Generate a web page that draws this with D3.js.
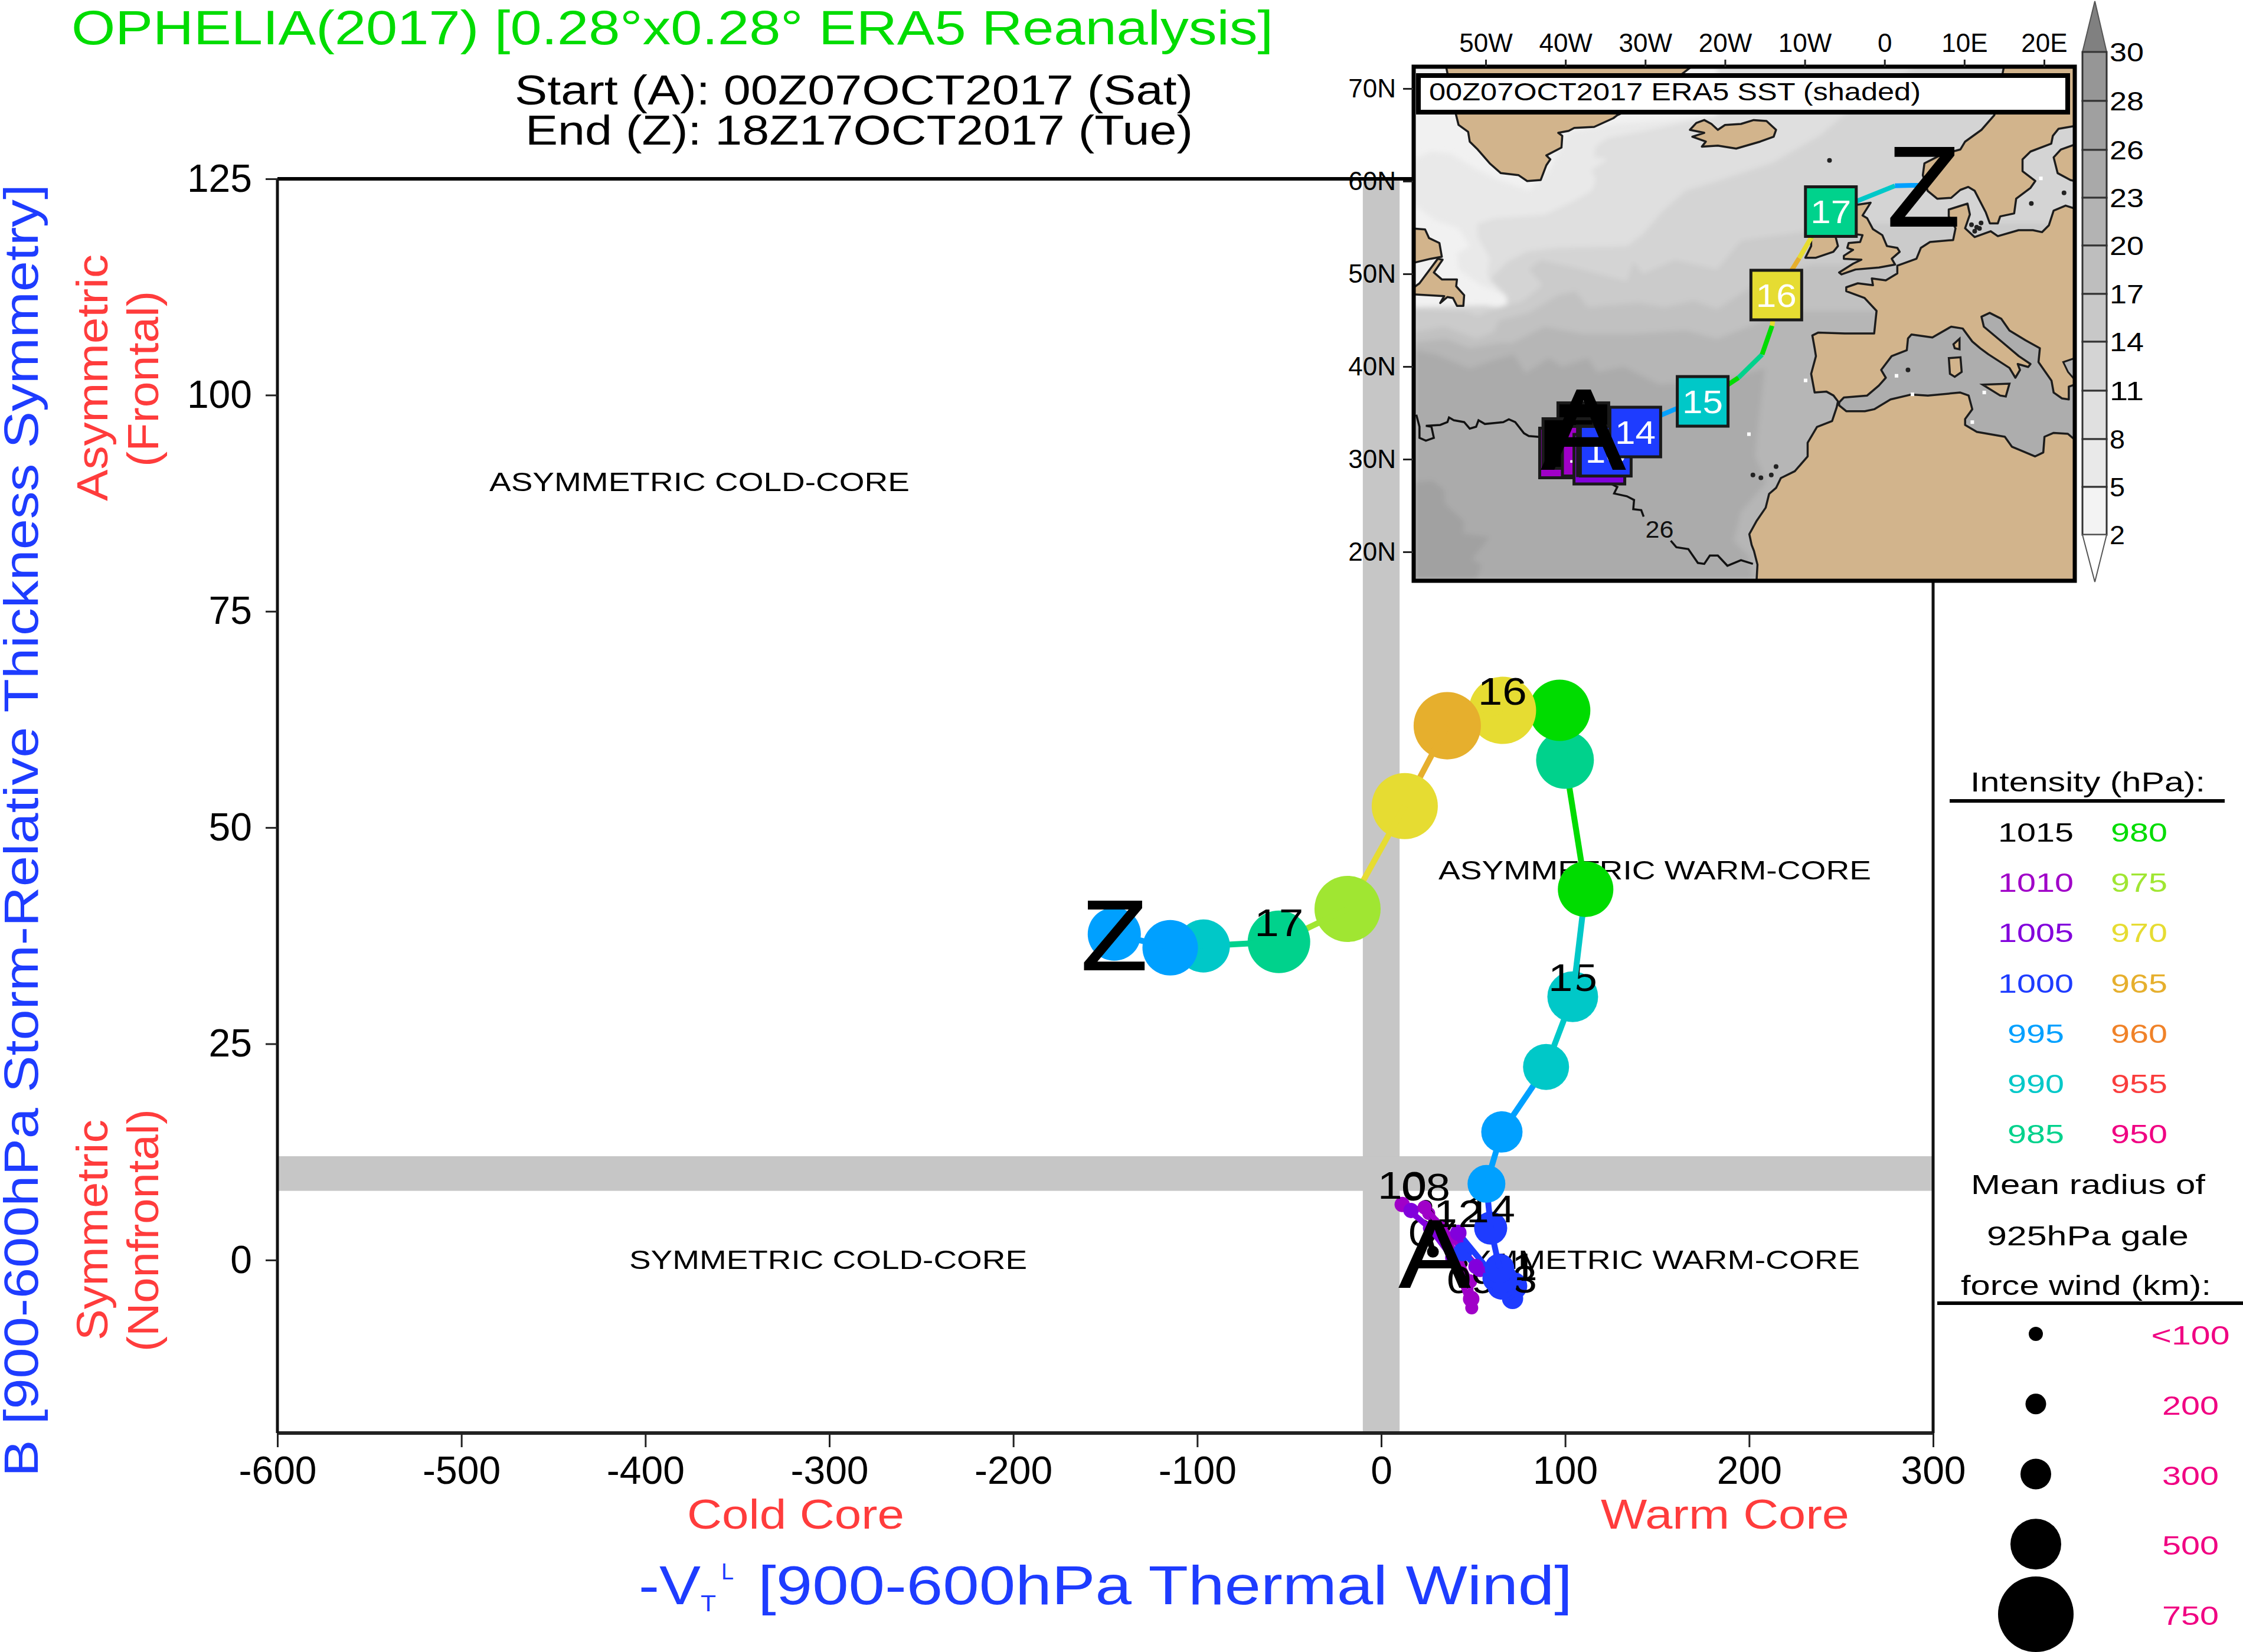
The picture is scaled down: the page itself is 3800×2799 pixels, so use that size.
<!DOCTYPE html>
<html>
<head>
<meta charset="utf-8">
<script src="https://cdn.jsdelivr.net/npm/d3@7"></script>
<style>html,body{margin:0;padding:0;background:#fff}svg{display:block}</style>
</head>
<body>
<script>
// ---------- phase diagram data (6-hourly, 00Z07OCT .. 18Z17OCT) ----------
const phaseVtl=[28.1,25.8,28.7,25.8,24.2,32.2,41.9,48.3,48.9,49.2,38.6,26.5,11.4,16.2,23.6,53.7,71.7,64.3,62.7,65.3,41.9,44.4,51.5,64.3,71.4,65.9,65.9,64.3,59.5,57.2,65.6,89.6,104.1,111.1,99.9,97,65.9,35.9,12.8,-18.3,-55.6,-96.7,-114.7,-145.1];
const phaseB=[0.96,2.66,4.37,5.39,6.21,3.69,0.27,-2.46,-4.5,-5.53,0.27,3.69,6.42,5.73,6.08,-1.09,-3,-0.96,-2.1,-2.94,3.14,0.96,-0.75,-1.77,-4.45,-2.8,-2.1,-0.96,3.69,8.81,14.81,22.32,30.44,42.87,57.82,63.55,63.55,61.77,52.49,40.6,36.79,36.31,36.11,37.68];
const phasePressure=[1015,1015,1015,1010,1015,1010,1010,1010,1010,1010,1005,1005,1010,1005,1010,1005,1000,1000,1000,1000,1005,1000,1005,1000,1000,1000,1000,1000,1000,995,995,990,990,980,985,980,970,965,970,975,985,990,995,995];
const phaseGale=[64,64,64,82,82,100,100,100,136,82,100,100,118,118,100,118,276,288,276,276,136,173,118,229,206,276,288,288,324,371,406,453,500,548,571,607,667,667,655,655,619,524,548,524];
// ---------- legend ----------
const pressureLeft=[1015,1010,1005,1000,995,990,985];
const pressureRight=[980,975,970,965,960,955,950];
const pressureColors=["#000000","#a000c8","#8200dc","#1e3cff","#00a0ff","#00c8c8","#00d28c","#00dc00","#a0e632","#e6dc32","#e6af2d","#f08228","#fa3c3c","#f00082"];
const galeKm=[100,200,300,500,750];
const galeRadiusPx=[12,17.5,26,43,64];
const galeLabels=["<100","200","300","500","750"];
// ---------- axes ----------
const xTicks=[-600,-500,-400,-300,-200,-100,0,100,200,300];
const yTicks=[125,100,75,50,25,0];
const lonTicks=[-50,-40,-30,-20,-10,0,10,20];
const lonLabels=["50W","40W","30W","20W","10W","0","10E","20E"];
const latTicks=[70,60,50,40,30,20];
const latLabels=["70N","60N","50N","40N","30N","20N"];
const cbarLevels=[30,28,26,23,20,17,14,11,8,5,2];
const cbarColors=["#969696","#a0a0a0","#a9a9a9","#b3b3b3","#bebebe","#c8c8c8","#d4d4d4","#e0e0e0","#e9e9e9","#f3f3f3"];
// ---------- inset track ----------
const trackLon=[-31.25,-28.3,-25.7,-24.2,-22.8,-18.3,-15.35,-14.1,-13.57,-10.7,-9.2,-7.95,-6.73,1.3,3.5,4.9];
const trackLat=[32.93,34.65,35.6,35.9,36.24,38.8,41.3,44.4,47.71,51.7,53.9,55.7,56.72,59.5,59.55,59.55];
const trackPressure=[1000,995,995,990,990,980,985,980,970,965,970,975,985,990,995,995];
const squareDays=["09","07","08","10","12","11","13","14","15","16","17"];
const squareLon=[-40.05,-37.76,-39.63,-37.2,-35.75,-35.3,-34.95,-31.25,-22.8,-13.57,-6.73];
const squareLat=[30.67,33.4,31.69,30.86,30,30.9,30.86,32.93,36.24,47.71,56.72];
const squarePressure=[1010,1015,1015,1010,1005,1000,1000,1000,990,970,985];
const startLonLat=[-37.76,33.4];
const endLonLat=[4.9,59.55];
// ---------- SST bands (lon,lat) ----------
const sstColors=["#e9e9e9","#dfdfdf","#d4d4d4","#cbcbcb","#c1c1c1","#b6b6b6","#ababab","#a1a1a1"];
const sst1=[[-59,62.4],[-56.9,63.2],[-54.4,63],[-51.2,61.3],[-48.5,60.2],[-44.6,59],[-42.1,61.1],[-39.6,65.3],[-33.5,66.2],[-27.3,66.6],[-21,67.1],[-21,72.5],[24,72.5],[24,16.9],[-59,16.9],[-59,46.4],[-51,46.4],[-47.3,46.2],[-47.5,47.7],[-50.7,48.8],[-53.4,50.5],[-53.6,52.2],[-52,53],[-53.4,54.9],[-56.4,55.8],[-59,57.5]];
const sst2=[[-51.1,55.4],[-51,53.9],[-49.5,51.7],[-49.8,50],[-49.5,49.4],[-47.3,47.5],[-47.3,46.2],[-51,46.4],[-59,46.4],[-59,16.9],[24,16.9],[24,72.5],[-21,72.5],[-21,67],[-24.9,66.4],[-29.8,65.5],[-34.7,64.7],[-36.2,63.8],[-36.5,62.6],[-34.7,62.4],[-36.8,61.2],[-36.2,60.2],[-36.7,59],[-38.9,57.9],[-42.6,56.4],[-49,56]];
const sst3=[[-59,46.4],[-50,46.6],[-47.3,46.2],[-47.3,47.5],[-49.5,49.4],[-47.3,51.3],[-44.8,52.4],[-40.9,52.8],[-32.3,53],[-30.3,54.3],[-27.8,56.8],[-24.9,59],[-21,60],[-14,62],[-8,65],[-4,68],[4,72.5],[24,72.5],[24,16.9],[-59,16.9]];
const sst4=[[-59,46.2],[-52.5,46],[-51,45.5],[-48,46.5],[-45.5,47],[-44,48],[-42.9,48.8],[-44.6,50.5],[-43.1,51.5],[-38.9,50.7],[-32.3,49.2],[-31.5,51.3],[-30.3,50],[-26.3,51.5],[-21,50.5],[-18,53.6],[-9.2,54.7],[-3,55.5],[24,55.5],[24,16.9],[-59,16.9]];
const sst5=[[-59,43.7],[-55.2,44.3],[-51.2,43],[-49,43.7],[-48.3,45],[-44.6,45.8],[-40.9,47.7],[-38.7,48.1],[-37.2,46.4],[-30.8,46.9],[-27.6,46.4],[-23.9,47.1],[-21,46.2],[-15,49.5],[-9,51],[-4,51],[24,51],[24,16.9],[-59,16.9]];
const sst6=[[-59,42.6],[-55,43],[-52,42],[-47.8,42.6],[-46.8,42.5],[-42.6,44.3],[-37.7,43.5],[-31.8,43.5],[-24.9,43.9],[-21,43],[-15,45],[-10,46],[24,46],[24,16.9],[-59,16.9]];
const sst7=[[-59,41.8],[-56.2,41.3],[-52,39.8],[-49,40.7],[-46.5,41.3],[-45,39.3],[-42.1,40.9],[-40.4,40],[-37.2,40.9],[-36,39.4],[-32.7,40],[-28.3,38.1],[-21,38.4],[-15,39.8],[-16,32.4],[-16.2,30.3],[-14.8,27.5],[-18,24.3],[-18.9,21.2],[-17,19.5],[-16.4,16.9],[-59,16.9]];
const sst8=[[-59,27.5],[-56.7,27.7],[-55.2,26.7],[-55.1,25.2],[-52.7,23.3],[-52.8,22],[-49.5,21.6],[-51.7,19.2],[-50.5,18.6],[-51.2,16.9],[-59,16.9]];
const sstBands=[sst1,sst2,sst3,sst4,sst5,sst6,sst7,sst8];
// ---------- coast polygons (lon,lat) ----------
const greenland=[[-55,72.5],[-53.7,67.1],[-53.4,66.07],[-52.2,65.33],[-52,64.27],[-51,63.42],[-49.5,61.93],[-48.1,60.87],[-45.9,60.66],[-44.8,60.02],[-43.1,60.13],[-42.4,61.72],[-41.9,62.35],[-42.4,62.78],[-40.5,63.63],[-40.4,64.9],[-40.9,65.22],[-39.6,65.43],[-38.9,65.75],[-36.4,65.86],[-34,66.8],[-33.5,67.13],[-30,68.5],[-24,72.5]];
const iceland=[[-20.9,65.54],[-20,66.07],[-18,66.18],[-16.4,66.6],[-14.8,66.5],[-13.6,65.54],[-13.9,64.8],[-15.6,64.27],[-18.6,63.52],[-20.9,63.84],[-22.9,63.73],[-22.4,64.27],[-24.1,64.8],[-22.6,65.22],[-24.4,65.54],[-23.6,66.28],[-22.6,66.6],[-21.7,66.18]];
const labrador=[[-59.5,54.92],[-57.6,54.8],[-57.1,53.86],[-55.8,53.33],[-55.5,51.85],[-56.9,51.63],[-59.5,51.1]];
const newfoundland=[[-56,51.63],[-55.4,51.53],[-56.5,50.15],[-55.5,49.4],[-53.6,49.4],[-53.7,48.66],[-52.7,47.7],[-52.8,46.54],[-53.6,46.54],[-54.1,47.39],[-54.8,47.5],[-55.7,46.86],[-55.2,47.6],[-59.5,47.81],[-59.5,48.24],[-58.3,48.98]];
const scandinavia=[[24.5,72.5],[15,72.5],[13.76,67.13],[12.15,65.54],[10.1,64.27],[9.5,63.42],[7.2,62.89],[5,61.93],[4.8,60.66],[5.4,58.96],[6.6,58.11],[8.35,58.2],[9.5,59.06],[10.5,59.38],[11.3,58.96],[12.7,56.62],[13.2,55.45],[14.2,55.45],[14.5,56.2],[16.25,56.52],[16.5,58.11],[18.3,59.28],[18.9,60.02],[17.3,61.08],[17.3,62.35],[18.3,63.2],[20.9,64.05],[21.1,64.9],[21.8,65.65],[23.85,65.96],[24.5,66]];
const finland=[[24.5,64],[23.85,63.95],[22.1,63.42],[21.2,62.57],[21.7,60.87],[23.3,60.13],[23.85,60.02],[24.5,60]];
const eurafrica=[[24.5,57.05],[23.85,57.05],[22.7,57.37],[21.2,56.83],[20.6,55.24],[19.75,54.5],[18.6,54.71],[16.8,54.71],[14.2,54.07],[13.3,54.6],[11.3,53.97],[10.1,54.92],[10.7,56.41],[10.4,57.58],[8.05,56.94],[8.05,56.2],[8.9,54.92],[8.6,53.65],[5.7,53.44],[4.55,52.8],[4,51.63],[1.6,50.89],[1.6,50.04],[0.16,49.3],[-1.6,49.51],[-1.45,48.77],[-3.35,48.98],[-4.8,48.55],[-4.8,48.13],[-2.5,47.39],[-1,46],[-1.3,43.57],[-5,43.57],[-8.3,43.67],[-9.05,43.35],[-8.76,41.97],[-8.6,41.12],[-9.2,39.21],[-8.76,37.19],[-7.3,37.3],[-6.4,36.87],[-5.84,36.24],[-6,35.6],[-6.57,34.12],[-8.47,33.48],[-9.64,31.78],[-9.64,30.3],[-11.25,28.7],[-13,27.96],[-13.6,26.9],[-14.47,26.26],[-14.9,24.77],[-16.07,23.29],[-16.95,21.91],[-16.66,20.74],[-16.37,20.1],[-15.93,18.62],[-16.07,16.5],[24.5,16.5]];
const britain=[[-5,58.4],[-3.35,57.47],[-1.74,57.68],[-2.76,56.3],[-2.18,56],[-1.45,54.82],[-0.28,54.18],[0.3,53],[1.6,52.8],[1.9,52.38],[0.9,51.63],[1.33,51],[-0.7,50.68],[-3.64,50.47],[-5.4,49.94],[-5.7,50.15],[-3.94,51.1],[-2.9,51.53],[-5.1,51.63],[-5.1,51.95],[-3.94,52.59],[-4.67,52.8],[-4.5,53.33],[-3.06,53.44],[-2.76,54.18],[-3.64,54.29],[-5,55],[-5.5,57]];
const ireland=[[-8,55.2],[-6.2,55.2],[-6.13,53.97],[-5.84,53],[-6.42,52.38],[-8.6,51.74],[-9.93,51.74],[-9.2,53],[-9.2,53.86]];
const mediterranean=[[-5.69,36.13],[-5.1,36.66],[-2.18,36.87],[-0.72,37.94],[0.16,38.79],[-0.42,39.63],[0.89,41.12],[2.79,41.76],[2.94,43.03],[3.38,43.46],[6,43.14],[8.35,44.3],[9.8,44.1],[11,42.7],[12,41.97],[13,41.33],[15.66,39.85],[16.4,38.79],[16.98,39.63],[16.7,40.27],[18,39.95],[18.3,40.27],[16.83,41.12],[14.5,42.82],[12.45,44.3],[12.15,45.37],[13.18,45.79],[14.64,45.15],[15.66,43.88],[17.7,42.82],[19.47,41.97],[19.3,40.48],[20.93,38.47],[21.2,37.19],[22.24,36.56],[23.1,36.45],[23.1,37.83],[23.85,38.04],[24.5,38.04],[24.5,32.1],[23.85,32.1],[22.98,32.74],[21.2,32.84],[20.05,32.42],[19.9,30.72],[18.88,30.3],[15.96,31.35],[15.08,32.42],[11.57,32.95],[10.1,33.69],[10.1,34.33],[11,35.39],[10.54,36.87],[9.5,37.19],[5.43,36.87],[3.38,36.98],[0.75,36.45],[-1.3,35.39],[-2.47,35.18],[-4.8,35.18],[-5.69,35.81]];
const aegean=[[22.4,40.48],[23.85,40.9],[24.5,40.9],[24.5,38.57],[23.85,38.57],[23,39.42]];
const sardinia=[[8.06,40.91],[9.52,41],[9.67,39.42],[8.8,38.89],[8.2,39.21]];
const corsica=[[8.8,41.97],[9.4,41.86],[9.4,43],[8.64,42.4]];
const sicily=[[12.3,38.04],[15.66,38.15],[15.2,36.77],[14.5,36.87]];
const landShapes=[greenland,iceland,labrador,newfoundland,scandinavia,finland,eurafrica,britain,ireland];
const medIslands=[sardinia,corsica,sicily];
const blobLon=[-6.9,-16.5,-15.5,-14.2,-13.6,11.55,10.9,12.1,18.4,22.5,2.94,11.3,11.9];
const blobLat=[62.25,28.3,28,28.3,29.2,55.03,55.3,55.5,57.6,58.75,39.63,54.6,54.9];
const whiteLon=[-17,1.5,11,19.6,-9.9,3.5,12.5];
const whiteLat=[32.7,39,34,60.3,38.5,37,37.2];
const contour26a=[[-58.7,34.8],[-58.3,33.5],[-58.3,32.3],[-57.5,32],[-56.5,32.3],[-56.8,33.5],[-57.5,33.6],[-55.7,33.7],[-54.8,34],[-54.6,34.5],[-54,34.2],[-52.7,34],[-52,33.3],[-51.2,33.5],[-50.9,34.2],[-50.1,33.8],[-47.8,34],[-47.1,34.3],[-46.3,34],[-45.2,32.8],[-44.6,32.5],[-43.3,32.4],[-38,29],[-33.5,27],[-33.9,26.3],[-32.3,26],[-31.4,25.6],[-31.5,24.6],[-30.5,24.5],[-30.2,23.8]];
const contour26b=[[-26.8,21.2],[-26.1,20.5],[-24.6,20.3],[-23.4,18.8],[-22.6,18.7],[-21.9,19.6],[-20.9,19.6],[-19.7,18.5],[-18,19.1],[-16.5,18.7]];

// ---------- helpers ----------
const FONT='"Liberation Sans", Arial, sans-serif';
const svg=d3.select("body").append("svg").attr("width",3800).attr("height",2799).attr("viewBox","0 0 3800 2799");
svg.append("rect").attr("width",3800).attr("height",2799).attr("fill","#fff");
function T(g,s,x,y,o){
  o=o||{};
  const t=g.append("text").text(s).attr("x",x).attr("y",y)
    .attr("font-family",FONT).attr("font-size",o.size||44).attr("fill",o.fill||"#000")
    .attr("text-anchor",o.anchor||"start");
  if(o.width){t.attr("textLength",o.width).attr("lengthAdjust","spacingAndGlyphs");}
  if(o.rotate){t.attr("transform",`rotate(${o.rotate} ${x} ${y})`);}
  if(o.stroke){t.attr("stroke",o.fill||"#000").attr("stroke-width",o.stroke);}
  return t;
}
const colorOf=d3.scaleOrdinal(pressureLeft.concat(pressureRight),pressureColors);
const rOf=d3.scaleLinear(galeKm,galeRadiusPx);

// ---------- main plot ----------
const X=d3.scaleLinear([-600,300],[470,3275]);
const Y=d3.scaleLinear([125,-20],[303,2428]);
const main=svg.append("g");
main.append("rect").attr("x",X(-10)).attr("y",Y(125)).attr("width",X(10)-X(-10)).attr("height",Y(-20)-Y(125)).attr("fill","#c6c6c6");
main.append("rect").attr("x",X(-600)).attr("y",Y(12)).attr("width",X(300)-X(-600)).attr("height",Y(8)-Y(12)).attr("fill","#c6c6c6");
main.append("line").attr("x1",X(-600)).attr("x2",X(300)).attr("y1",Y(125)).attr("y2",Y(125)).attr("stroke","#000").attr("stroke-width",6);
main.append("line").attr("x1",X(-600)).attr("x2",X(300)).attr("y1",Y(-20)).attr("y2",Y(-20)).attr("stroke","#222").attr("stroke-width",6);
main.append("line").attr("x1",X(-600)).attr("x2",X(-600)).attr("y1",Y(125)).attr("y2",Y(-20)).attr("stroke","#111").attr("stroke-width",5);
main.append("line").attr("x1",X(300)).attr("x2",X(300)).attr("y1",Y(125)).attr("y2",Y(-20)).attr("stroke","#111").attr("stroke-width",5);
const ax=main.append("g").attr("transform",`translate(0,${Y(-20)})`).call(d3.axisBottom(X).tickValues(xTicks).tickFormat(d=>String(d)).tickSize(24).tickPadding(15));
const ay=main.append("g").attr("transform",`translate(${X(-600)},0)`).call(d3.axisLeft(Y).tickValues(yTicks).tickFormat(d=>String(d)).tickSize(20).tickPadding(23));
[ax,ay].forEach(a=>{a.select(".domain").remove();a.attr("font-family",FONT).attr("font-size",66);a.selectAll("line").attr("stroke","#222").attr("stroke-width",3);});

T(main,"ASYMMETRIC COLD-CORE",829,832,{width:712});
T(main,"SYMMETRIC COLD-CORE",1066,2150,{width:674});
T(main,"ASYMMETRIC WARM-CORE",2437,1490,{width:733});
T(main,"SYMMETRIC WARM-CORE",2452,2150,{width:699});

// titles
T(svg,"OPHELIA(2017) [0.28°x0.28° ERA5 Reanalysis]",121,75,{size:81,fill:"#00dc00",width:2036});
T(svg,"Start (A): 00Z07OCT2017 (Sat)",872,177,{size:70,width:1149});
T(svg,"End (Z): 18Z17OCT2017 (Tue)",890,245,{size:70,width:1131});
T(svg,"Cold Core",1164,2590,{size:70,fill:"#ff3c3c",width:368});
T(svg,"Warm Core",2712,2590,{size:70,fill:"#ff3c3c",width:421});
const BLUE="#1e3cff";
T(svg,"-V",1082,2718,{size:92,fill:BLUE,width:105});
T(svg,"T",1187,2730,{size:39,fill:BLUE,width:26});
T(svg,"L",1222,2676,{size:39,fill:BLUE,width:21});
T(svg,"[900-600hPa Thermal Wind]",1284,2718,{size:92,fill:BLUE,width:1380});
T(svg,"B [900-600hPa Storm-Relative Thickness Symmetry]",64,2502,{size:82,fill:BLUE,width:2190,rotate:-90});
T(svg,"Asymmetric",182,849,{size:75,fill:"#ff3c3c",width:418,rotate:-90});
T(svg,"(Frontal)",268,791,{size:75,fill:"#ff3c3c",width:298,rotate:-90});
T(svg,"Symmetric",182,2271,{size:75,fill:"#ff3c3c",width:374,rotate:-90});
T(svg,"(Nonfrontal)",268,2290,{size:75,fill:"#ff3c3c",width:411,rotate:-90});

// track drawn in time order so later points cover earlier ones
const phase=svg.append("g");
phaseVtl.forEach((v,i)=>{
  const px=X(v),py=Y(phaseB[i]);
  if(i>0){
    phase.append("line").attr("x1",X(phaseVtl[i-1])).attr("y1",Y(phaseB[i-1])).attr("x2",px).attr("y2",py)
      .attr("stroke",colorOf(phasePressure[i-1])).attr("stroke-width",10);
  }
  phase.append("circle").attr("cx",px).attr("cy",py).attr("r",rOf(phaseGale[i])).attr("fill",colorOf(phasePressure[i]));
  if(i%4===0){
    T(phase,String(7+i/4).padStart(2,"0"),px,py-10,{size:64,anchor:"middle",width:83});
  }
});
T(svg,"A",X(phaseVtl[0])+3,Y(phaseB[0])+60,{size:163,anchor:"middle",width:120,stroke:2});
T(svg,"Z",X(phaseVtl[43]),Y(phaseB[43])+60,{size:168,anchor:"middle",width:112,stroke:2});

// ---------- inset map ----------
const lon=d3.scaleLinear([-50,20],[2517,3463]);
const lat=d3.scaleLinear([70,20],[150,935]);
const geo=d3.line().x(d=>lon(d[0])).y(d=>lat(d[1]));
const poly=p=>geo(p)+"Z";
const defs=svg.append("defs");
defs.append("clipPath").attr("id","mapclip").append("rect").attr("x",2395).attr("y",113).attr("width",1120).attr("height",871);
defs.append("filter").attr("id","soft").attr("x","-5%").attr("y","-5%").attr("width","110%").attr("height","110%")
  .append("feGaussianBlur").attr("stdDeviation",4);
const inset=svg.append("g");
inset.append("rect").attr("x",2395).attr("y",113).attr("width",1120).attr("height",871).attr("fill","#f1f1f1");
const mapG=inset.append("g").attr("clip-path","url(#mapclip)");
mapG.append("g").attr("filter","url(#soft)").selectAll(".sst").data(sstBands).join("path").attr("class","sst").attr("d",poly).attr("fill",(d,i)=>sstColors[i]);
mapG.selectAll(".land").data(landShapes).join("path").attr("class","land").attr("d",poly).attr("fill","#d2b48c").attr("stroke","#1c1c1c").attr("stroke-width",3.5).attr("stroke-linejoin","round");
mapG.append("path").attr("d",poly(mediterranean)).attr("fill","#adadad").attr("stroke","#1c1c1c").attr("stroke-width",3.5).attr("stroke-linejoin","round");
mapG.append("path").attr("d",poly(aegean)).attr("fill","#b4b4b4").attr("stroke","#1c1c1c").attr("stroke-width",3);
mapG.selectAll(".isl").data(medIslands).join("path").attr("class","isl").attr("d",poly).attr("fill","#d2b48c").attr("stroke","#1c1c1c").attr("stroke-width",3.5);
mapG.selectAll(".blob").data(blobLon).join("circle").attr("class","blob").attr("cx",d=>lon(d)).attr("cy",(d,i)=>lat(blobLat[i])).attr("r",4).attr("fill","#222");
mapG.selectAll(".speck").data(whiteLon).join("rect").attr("class","speck").attr("x",d=>lon(d)-3).attr("y",(d,i)=>lat(whiteLat[i])-3).attr("width",6).attr("height",6).attr("fill","#fff");
mapG.append("path").attr("d",geo(contour26a)).attr("fill","none").attr("stroke","#111").attr("stroke-width",3.5);
mapG.append("path").attr("d",geo(contour26b)).attr("fill","none").attr("stroke","#111").attr("stroke-width",3.5);
T(mapG,"26",lon(-28.2),lat(21.5),{size:40,anchor:"middle",width:48,fill:"#111"});
// track on map
trackLon.forEach((v,i)=>{
  if(i===0)return;
  mapG.append("line").attr("x1",lon(trackLon[i-1])).attr("y1",lat(trackLat[i-1])).attr("x2",lon(v)).attr("y2",lat(trackLat[i]))
    .attr("stroke",colorOf(trackPressure[i])).attr("stroke-width",8);
});
squareDays.forEach((d,i)=>{
  const cx=lon(squareLon[i]),cy=lat(squareLat[i]);
  mapG.append("rect").attr("x",cx-43).attr("y",cy-42).attr("width",86).attr("height",84)
    .attr("fill",colorOf(squarePressure[i])).attr("stroke","#1a1a1a").attr("stroke-width",5);
  T(mapG,d,cx,cy+20,{size:56,anchor:"middle",width:69,fill:squarePressure[i]===1015?"#000":"#fff"});
});
T(mapG,"A",lon(startLonLat[0]),lat(startLonLat[1])+70,{size:195,anchor:"middle",width:142,stroke:2});
T(mapG,"Z",lon(endLonLat[0]),lat(endLonLat[1])+69,{size:193,anchor:"middle",width:124,stroke:2});
inset.append("rect").attr("x",2395).attr("y",113).attr("width",1120).attr("height",871).attr("fill","none").attr("stroke","#000").attr("stroke-width",7);
inset.append("rect").attr("x",2403).attr("y",128).attr("width",1100).attr("height",62).attr("fill","#fff").attr("stroke","#000").attr("stroke-width",8);
T(inset,"00Z07OCT2017 ERA5 SST (shaded)",2421,170,{size:42,width:833});
const lonAxis=inset.append("g").attr("transform","translate(0,113)").call(d3.axisTop(lon).tickValues(lonTicks).tickFormat((d,i)=>lonLabels[i]).tickSize(12).tickPadding(13));
const latAxis=inset.append("g").attr("transform","translate(2394,0)").call(d3.axisLeft(lat).tickValues(latTicks).tickFormat((d,i)=>latLabels[i]).tickSize(17).tickPadding(12));
[lonAxis,latAxis].forEach(a=>{a.select(".domain").remove();a.attr("font-family",FONT).attr("font-size",44);a.selectAll("line").attr("stroke","#222").attr("stroke-width",3);});

// colour bar
const cbarY=d3.scaleLinear(d3.range(cbarLevels.length),[88,171,254,335,416,498,579,662,744,825,906]);
const cb=svg.append("g");
cb.append("path").attr("d",`M3528,${cbarY(0)}L3549,2L3569,${cbarY(0)}Z`).attr("fill","#808080").attr("stroke","#555").attr("stroke-width",2);
cbarColors.forEach((c,i)=>{
  cb.append("rect").attr("x",3528).attr("y",cbarY(i)).attr("width",41).attr("height",cbarY(i+1)-cbarY(i)).attr("fill",c).attr("stroke","#333").attr("stroke-width",3);
});
cb.append("path").attr("d",`M3528,${cbarY(10)}L3549,986L3569,${cbarY(10)}Z`).attr("fill","#fff").attr("stroke","#555").attr("stroke-width",2);
cbarLevels.forEach((v,i)=>{
  T(cb,String(v),3574,cbarY(i)+16,{size:44,width:String(v).length===2?58:26});
});

// ---------- legend ----------
const leg=svg.append("g");
T(leg,"Intensity (hPa):",3338,1341,{size:46,width:398});
leg.append("line").attr("x1",3303).attr("x2",3769).attr("y1",1357).attr("y2",1357).attr("stroke","#000").attr("stroke-width",6);
const rowY=d3.scaleLinear([0,6],[1426,1937]);
pressureLeft.forEach((p,i)=>{
  const s=String(p);
  T(leg,s,3449,rowY(i),{size:44,anchor:"middle",width:s.length===4?128:96,fill:colorOf(p)});
});
pressureRight.forEach((p,i)=>{
  T(leg,String(p),3624,rowY(i),{size:44,anchor:"middle",width:96,fill:colorOf(p)});
});
T(leg,"Mean radius of",3339,2023,{size:46,width:397});
T(leg,"925hPa gale",3366,2110,{size:46,width:342});
T(leg,"force wind (km):",3322,2194,{size:46,width:424});
leg.append("line").attr("x1",3282).attr("x2",3800).attr("y1",2208).attr("y2",2208).attr("stroke","#000").attr("stroke-width",6);
const galeY=d3.scaleLinear([0,4],[2260,2735]);
galeKm.forEach((k,i)=>{
  leg.append("circle").attr("cx",3449).attr("cy",galeY(i)).attr("r",rOf(k)).attr("fill","#000");
  const s=galeLabels[i];
  T(leg,s,3711,galeY(i)+18,{size:44,anchor:"middle",width:s.length===4?133:96,fill:"#f00082"});
});
</script>
</body>
</html>
